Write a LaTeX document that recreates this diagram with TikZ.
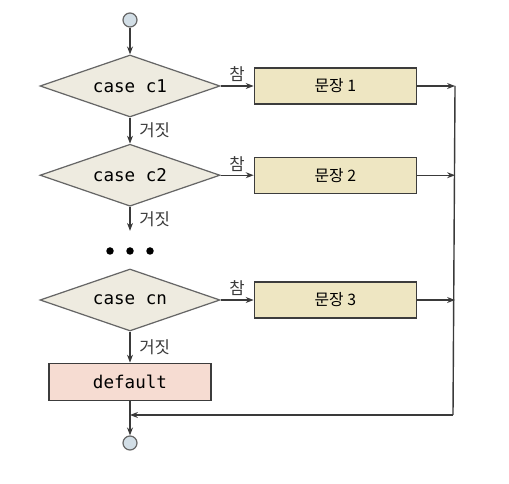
\documentclass[tikz,border=0pt]{standalone}
\usepackage{fontspec}
\setmonofont{DejaVu Sans Mono}
\newfontfamily\krfont{Noto Sans CJK KR}
\usetikzlibrary{shapes.geometric, arrows.meta, positioning}
\definecolor{decfill}{HTML}{EEEBE0}
\definecolor{stmtfill}{HTML}{EEE6C2}
\definecolor{deffill}{HTML}{F6DCD2}
\definecolor{termfill}{HTML}{D2DEE6}
\definecolor{linegray}{HTML}{666666}
\definecolor{boxline}{HTML}{3C3C3C}
\definecolor{arrowgray}{HTML}{3A3A3A}

\begin{document}
\begin{tikzpicture}[
			decision/.style = {
				diamond, shape aspect=2.9, draw=linegray, fill=decfill, line width=0.7pt,
				minimum width=3.6cm, minimum height=1.24cm, inner sep=0pt,
				font=\ttfamily\fontsize{10}{12}\selectfont
			},
			stmt/.style = {
				rectangle, draw=boxline, fill=stmtfill, line width=0.8pt,
				minimum width=3.24cm, minimum height=0.72cm,
				font=\krfont\fontsize{9}{10}\selectfont
			},
			defbox/.style = {
				stmt, fill=deffill, minimum height=0.74cm,
				font=\ttfamily\fontsize{10}{12}\selectfont
			},
			terminal/.style = {
				circle, draw=linegray, fill=termfill, line width=0.7pt,
				minimum size=0.28cm, inner sep=0pt
			},
			lbl/.style = {
				font=\krfont\fontsize{9.5}{11}\selectfont, inner sep=2pt
			},
			flow/.style = {
				color=arrowgray, line width=0.6pt,
				-{Stealth[length=4.5pt, width=3.4pt]}
			}]
			\useasboundingbox (0,0) rectangle (10.18,-9.68);
			\node (start) [terminal] at (2.6,-0.4) {};
			\node (c1) [decision] at (2.6,-1.72) {case c1};
			\node (c2) [decision, below = 0.52cm of c1] {case c2};
			\coordinate [below = 0.48cm of c2] (c2out);
			\node (cn) [decision] at (2.6,-6.0) {case cn};
			\node (default) [defbox, below = 0.62cm of cn] {default};
			\node (end) [terminal] at (2.6,-8.86) {};
			\node (s1) [stmt, right = 0.66cm of c1] {문장 1};
			\node (s2) [stmt, right = 0.66cm of c2] {문장 2};
			\node (s3) [stmt, right = 0.66cm of cn] {문장 3};
			\coordinate [right = 0.76cm of s1] (m1);
			\coordinate [right = 0.76cm of s2] (m2);
			\coordinate [right = 0.76cm of s3] (m3);
			\coordinate (corner) at (9.06,-8.3);
			\coordinate (back) at (default |- corner);
			\foreach \dx in {-0.4,0,0.4}
				\fill (2.6+\dx,-5.02) circle (0.075cm);
			\path [flow]
			(start) edge (c1)
			(c1) edge node[right=3pt, lbl] {거짓} (c2)
			(c2) edge node[right=3pt, lbl] {거짓} (c2out)
			(cn) edge node[right=3pt, lbl] {거짓} (default)
			(c1) edge node[above, lbl] {참} (s1)
			(c2) edge node[above, lbl] {참} (s2)
			(cn) edge node[above, lbl] {참} (s3)
			(s1) edge (m1)
			(s2) edge (m2)
			(s3) edge (m3)
			(corner) edge (back)
			(default) edge (end);
			\draw [draw=arrowgray, line width=0.8pt] (m1) -- (corner);
		\end{tikzpicture}
\end{document}
